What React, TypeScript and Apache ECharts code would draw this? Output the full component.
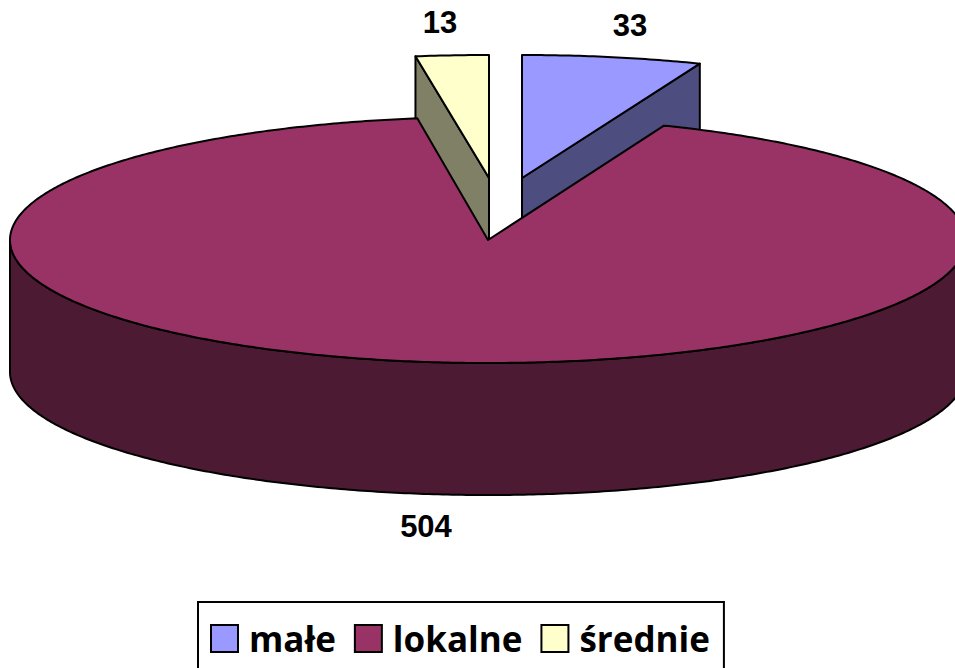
import React, { useEffect, useRef } from "react";
import * as echarts from "echarts";

const categories = ["małe", "lokalne", "średnie"];
const values = [33, 504, 13];
const topColors = ["#9999FF", "#993366", "#FFFFCC"];
const sideColors = ["#4D4D80", "#4D1A33", "#808066"];
const explodeX = [34, 0, 1];
const explodeY = [-62, 0, -62];
const radiusX = [483, 478, 497];
const labelX = [630, 426, 440];
const labelY = [25, 526, 22];

const CX = 488;
const CY = 240;
const RY = 123;
const DEPTH = 132;

const total = values.reduce((a, b) => a + b, 0);
const startAngle = (i: number) =>
  (values.slice(0, i).reduce((a, b) => a + b, 0) / total) * Math.PI * 2;

const rim = (t: number, i: number, d = 0): number[] => [
  CX + explodeX[i] + radiusX[i] * Math.sin(t),
  CY + explodeY[i] + d - RY * Math.cos(t),
];

const arc = (a: number, b: number, i: number, d = 0): number[][] => {
  const n = Math.max(2, Math.ceil(Math.abs(b - a) / 0.01));
  const pts: number[][] = [];
  for (let k = 0; k <= n; k++) pts.push(rim(a + ((b - a) * k) / n, i, d));
  return pts;
};

const line = { stroke: "#000", lineWidth: 2, lineJoin: "round" as const };

const makeRender = (i: number) => (_p: unknown, api: any) => {
  const v = api.value(0);
  const a = startAngle(i);
  const b = a + (v / total) * Math.PI * 2;
  const c = [CX + explodeX[i], CY + explodeY[i]];
  const children: any[] = [];
  const poly = (points: number[][], fill: string) =>
    children.push({ type: "polygon", shape: { points }, style: { fill, ...line } });

  if (i === 1) {
    // outer wall of the large slice: the front half of the rim
    const w0 = Math.max(a, Math.PI / 2);
    const w1 = Math.min(b, (Math.PI * 3) / 2);
    poly([...arc(w0, w1, i), ...arc(w1, w0, i, DEPTH)], sideColors[i]);
  } else {
    // cut face towards the viewer, the large slice covers its lower part
    const t = i === 0 ? b : a;
    const p = rim(t, i);
    poly([c, p, [p[0], p[1] + DEPTH], [c[0], c[1] + DEPTH]], sideColors[i]);
  }
  poly([c, ...arc(a, b, i)], topColors[i]);
  children.push({
    type: "text",
    style: {
      x: labelX[i],
      y: labelY[i],
      text: String(v),
      fill: "#000",
      font: "bold 31px 'Liberation Sans', Arial, sans-serif",
      align: "center",
      verticalAlign: "middle",
    },
  });
  return { type: "group", children };
};

export default function App() {
  const ref = useRef<HTMLDivElement>(null);
  useEffect(() => {
    document.body.style.margin = "0";
    const chart = echarts.init(ref.current!, null, { renderer: "svg" });
    chart.setOption({
      animation: false,
      backgroundColor: "#fff",
      legend: {
        data: categories.map((name, i) => ({
          name,
          icon: "rect",
          itemStyle: { color: topColors[i], borderColor: "#000", borderWidth: 2, opacity: 1 },
        })),
        left: 198,
        top: 602,
        orient: "horizontal",
        padding: [19, 14, 40, 12],
        itemGap: 18,
        itemWidth: 27,
        itemHeight: 27,
        backgroundColor: "#fff",
        borderColor: "#000",
        borderWidth: 2,
        borderRadius: 0,
        selectedMode: false,
        textStyle: {
          fontFamily: "'Open Sans', sans-serif",
          fontWeight: "bold",
          fontSize: 35,
          color: "#000",
          padding: [0, 0, 0, 6],
        },
      },
      series: categories.map((name, i) => ({
        type: "custom",
        name,
        coordinateSystem: "none",
        z: i === 1 ? 3 : 2,
        silent: true,
        clip: false,
        itemStyle: { color: topColors[i], borderColor: "#000", borderWidth: 2 },
        data: [[values[i]]],
        renderItem: makeRender(i),
      })),
    });
    return () => chart.dispose();
  }, []);
  return <div ref={ref} style={{ width: 955, height: 668 }} />;
}
